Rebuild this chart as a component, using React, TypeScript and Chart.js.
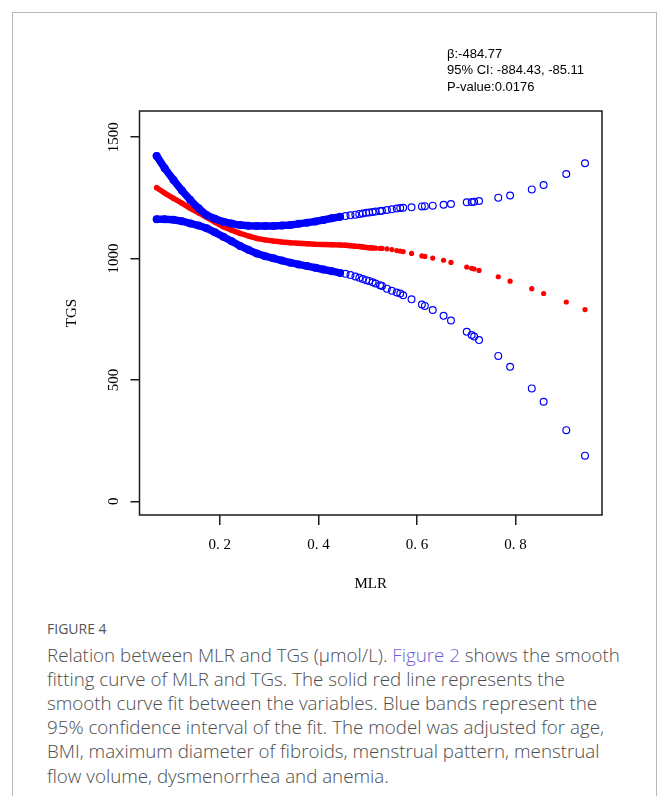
import React, { useEffect, useRef } from "react";
import { Chart, registerables } from "chart.js";

Chart.register(...registerables);

// MLR values of the observations (sorted)
const mlr = [
  0.0717, 0.088, 0.106, 0.123, 0.14, 0.157, 0.173, 0.19, 0.207, 0.224, 0.241, 0.258,
  0.275, 0.292, 0.309, 0.326, 0.343, 0.36, 0.377, 0.394, 0.41, 0.427, 0.444,
  0.455, 0.465, 0.475, 0.483, 0.49, 0.497, 0.503, 0.51, 0.516, 0.525, 0.529, 0.539,
  0.549, 0.559, 0.566, 0.572, 0.589, 0.61, 0.616, 0.632, 0.654, 0.669, 0.701, 0.711,
  0.716, 0.726, 0.765, 0.789, 0.833, 0.857, 0.903, 0.941,
];
// Smooth curve fit (red)
const fitTGs = [
  1292, 1270, 1248, 1228, 1207, 1188, 1170, 1150, 1131, 1117, 1104, 1093,
  1083, 1077, 1072, 1068, 1065, 1063, 1061, 1059, 1058, 1057, 1056,
  1055, 1053, 1051, 1050, 1048, 1046, 1045, 1044, 1043, 1042, 1042, 1040,
  1037, 1033, 1031, 1029, 1021, 1011, 1009, 1002, 993, 984, 965, 960,
  957, 951, 925, 907, 876, 856, 821, 790,
];
// Upper 95% CI (blue)
const upperCI = [
  1423, 1372, 1324, 1280, 1241, 1207, 1179, 1164, 1152, 1144, 1138, 1135,
  1134, 1134, 1134, 1136, 1138, 1143, 1148, 1153, 1159, 1166, 1172,
  1175, 1178, 1181, 1184, 1186, 1189, 1190, 1192, 1194, 1196, 1197, 1200,
  1203, 1206, 1208, 1209, 1211, 1215, 1216, 1218, 1222, 1225, 1232, 1233,
  1234, 1237, 1251, 1260, 1285, 1303, 1348, 1393,
];
// Lower 95% CI (blue)
const lowerCI = [
  1162, 1162, 1160, 1154, 1145, 1136, 1125, 1108, 1090, 1071, 1052, 1036,
  1021, 1010, 1001, 992, 983, 976, 969, 962, 955, 948, 941,
  937, 932, 926, 921, 916, 911, 908, 902, 897, 890, 887, 876,
  867, 860, 856, 849, 832, 811, 805, 788, 764, 745, 698, 685,
  679, 664, 599, 554, 465, 410, 293, 188,
];

const xTickValues = [0.2, 0.4, 0.6, 0.8];
const xTickLabels = ["0. 2", "0. 4", "0. 6", "0. 8"];
const yTickValues = [0, 500, 1000, 1500];
const yTickLabels = ["0", "500", "1000", "1500"];
const annotationLines = ["β:-484.77", "95% CI: -884.43, -85.11", "P-value:0.0176"];

const X_MIN = 0.0369;
const X_MAX = 0.9755;
const Y_MIN = -56.5;
const Y_MAX = 1608;
const BLUE_DENSE_LIMIT = 0.445;
const RED_DENSE_LIMIT = 0.51;

const SERIF = '"Liberation Serif", "DejaVu Serif", serif';

const boxPlugin = {
  id: "rBox",
  afterDraw(chart: any) {
    const { ctx, chartArea } = chart;
    ctx.save();
    ctx.strokeStyle = "#1a1a1a";
    ctx.lineWidth = 1.5;
    ctx.strokeRect(chartArea.left, chartArea.top, chartArea.right - chartArea.left, chartArea.bottom - chartArea.top);
    // rotated y tick labels (R style, las = 0)
    const yScale = chart.scales.y;
    ctx.fillStyle = "#000";
    ctx.font = `15px ${SERIF}`;
    ctx.textAlign = "center";
    ctx.textBaseline = "alphabetic";
    const bx = yScale.right - 9 - 13;
    yTickValues.forEach((v, i) => {
      const py = yScale.getPixelForValue(v);
      ctx.save();
      ctx.translate(bx, py);
      ctx.rotate(-Math.PI / 2);
      ctx.fillText(yTickLabels[i], 0, 0);
      ctx.restore();
    });
    ctx.restore();
  },
};

function ChartCanvas() {
  const ref = useRef<HTMLCanvasElement | null>(null);
  useEffect(() => {
    if (!ref.current) return;
    const pts = (arr: number[]) => mlr.map((x, i) => ({ x, y: arr[i] }));
    const chart = new Chart(ref.current, {
      type: "scatter",
      data: {
        datasets: [
          {
            label: "upper",
            data: pts(upperCI),
            showLine: true,
            borderColor: "#0000ff",
            borderWidth: 7.5,
            borderJoinStyle: "round",
            borderCapStyle: "round",
            tension: 0,
            segment: {
              borderColor: (c: any) => (c.p1.parsed.x <= BLUE_DENSE_LIMIT ? "#0000ff" : "rgba(0,0,0,0)"),
            },
            pointRadius: 3.4,
            pointBorderWidth: 1.2,
            pointBorderColor: "#0000ff",
            pointBackgroundColor: "rgba(0,0,0,0)",
          } as any,
          {
            label: "lower",
            data: pts(lowerCI),
            showLine: true,
            borderColor: "#0000ff",
            borderWidth: 7.5,
            borderJoinStyle: "round",
            borderCapStyle: "round",
            tension: 0,
            segment: {
              borderColor: (c: any) => (c.p1.parsed.x <= BLUE_DENSE_LIMIT ? "#0000ff" : "rgba(0,0,0,0)"),
            },
            pointRadius: 3.4,
            pointBorderWidth: 1.2,
            pointBorderColor: "#0000ff",
            pointBackgroundColor: "rgba(0,0,0,0)",
          } as any,
          {
            label: "fit",
            data: pts(fitTGs),
            showLine: true,
            borderColor: "#ff0000",
            borderWidth: 5.5,
            borderJoinStyle: "round",
            borderCapStyle: "round",
            tension: 0,
            segment: {
              borderColor: (c: any) => (c.p1.parsed.x <= RED_DENSE_LIMIT ? "#ff0000" : "rgba(0,0,0,0)"),
            },
            pointRadius: 2.6,
            pointBorderWidth: 0,
            pointBackgroundColor: "#ff0000",
          } as any,
        ],
      },
      options: {
        animation: false,
        responsive: false,
        maintainAspectRatio: false,
        events: [],
        layout: { padding: { left: 0, top: 111, right: 57, bottom: 0 } },
        plugins: { legend: { display: false }, tooltip: { enabled: false } },
        scales: {
          x: {
            type: "linear",
            min: X_MIN,
            max: X_MAX,
            afterBuildTicks: (s: any) => {
              s.ticks = xTickValues.map((v) => ({ value: v }));
            },
            afterFit: (s: any) => {
              s.height = 85;
            },
            border: { display: false },
            grid: { drawOnChartArea: false, drawTicks: true, tickLength: 10, color: "#1a1a1a", lineWidth: 1.5 },
            ticks: {
              padding: 11,
              color: "#000",
              font: { family: SERIF, size: 15 },
              maxRotation: 0,
              autoSkip: false,
              callback: (v: any) => {
                const i = xTickValues.findIndex((t) => Math.abs(t - Number(v)) < 1e-9);
                return i >= 0 ? xTickLabels[i] : "";
              },
            },
            title: {
              display: true,
              text: "MLR",
              color: "#000",
              font: { family: SERIF, size: 15 },
              padding: { top: 0, bottom: 7 },
            },
          },
          y: {
            type: "linear",
            min: Y_MIN,
            max: Y_MAX,
            afterBuildTicks: (s: any) => {
              s.ticks = yTickValues.map((v) => ({ value: v }));
            },
            afterFit: (s: any) => {
              s.width = 139.5;
            },
            border: { display: false },
            grid: { drawOnChartArea: false, drawTicks: true, tickLength: 9, color: "#1a1a1a", lineWidth: 1.5 },
            ticks: { display: false },
            title: {
              display: true,
              text: "TGS",
              color: "#000",
              font: { family: SERIF, size: 15 },
              padding: { top: 63, bottom: 0 },
            },
          },
        },
      } as any,
      plugins: [boxPlugin],
    });
    return () => chart.destroy();
  }, []);
  return (
    <canvas
      ref={ref}
      width={659}
      height={600}
      style={{ position: "absolute", left: 0, top: 0, width: 659, height: 600, display: "block" }}
    />
  );
}

export default function App() {
  return (
    <div
      style={{
        position: "absolute",
        left: 0,
        top: 0,
        width: 659,
        height: 796,
        overflow: "hidden",
        background: "#fff",
      }}
    >
      <div
        style={{
          position: "absolute",
          left: 12,
          top: 12,
          width: 645,
          height: 820,
          boxSizing: "border-box",
          borderLeft: "1.5px solid #b8b8b8",
          borderTop: "1.5px solid #b8b8b8",
          borderRight: "1.5px solid #b8b8b8",
        }}
      />
      <ChartCanvas />
      <div
        style={{
          position: "absolute",
          left: 447,
          top: 45.5,
          fontFamily: '"Liberation Sans", Arial, sans-serif',
          fontSize: 13,
          lineHeight: "16.6px",
          color: "#000",
          whiteSpace: "nowrap",
        }}
      >
        {annotationLines.map((t) => (
          <div key={t}>{t}</div>
        ))}
      </div>
      <div
        style={{
          position: "absolute",
          left: 47,
          top: 619,
          fontFamily: '"Open Sans", sans-serif',
          fontSize: 14,
          fontWeight: 500,
          lineHeight: "20px",
          color: "#555",
          whiteSpace: "nowrap",
        }}
      >
        FIGURE 4
      </div>
      <div
        style={{
          position: "absolute",
          left: 47,
          top: 642.5,
          fontFamily: '"Open Sans", sans-serif',
          fontSize: 18.75,
          fontWeight: 300,
          lineHeight: "24.2px",
          color: "#4d4d4d",
          whiteSpace: "nowrap",
        }}
      >
        Relation between MLR and TGs (μmol/L). <span style={{ color: "#6a5fd8" }}>Figure 2</span> shows the smooth
        <br />
        fitting curve of MLR and TGs. The solid red line represents the
        <br />
        smooth curve fit between the variables. Blue bands represent the
        <br />
        95% confidence interval of the fit. The model was adjusted for age,
        <br />
        BMI, maximum diameter of fibroids, menstrual pattern, menstrual
        <br />
        flow volume, dysmenorrhea and anemia.
      </div>
    </div>
  );
}
